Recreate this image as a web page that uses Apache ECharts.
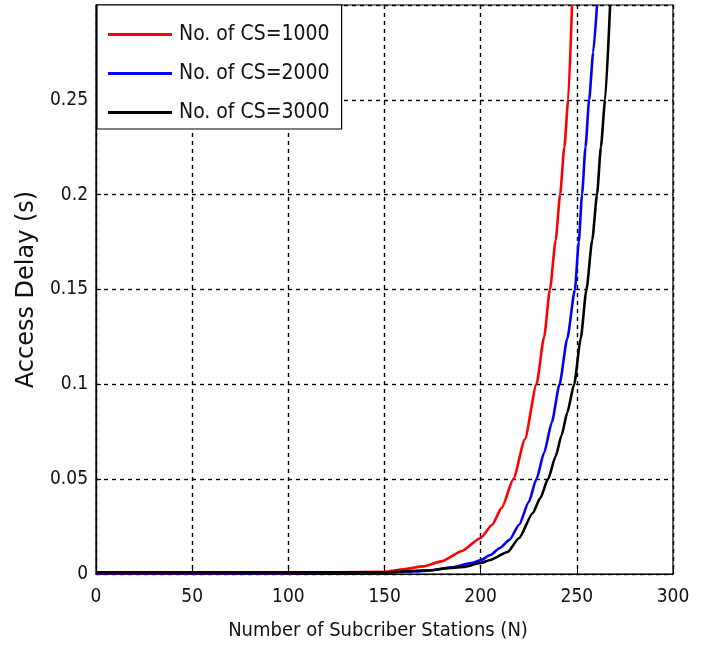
<!DOCTYPE html>
<html>
<head>
<meta charset="utf-8">
<script src="https://cdn.jsdelivr.net/npm/echarts@6/dist/echarts.min.js"></script>
<style>
html,body{margin:0;padding:0;background:#fff;}
#chart{width:707px;height:654px;}
</style>
</head>
<body>
<div id="chart"></div>
<script>
// Data
const seriesNames = ['No. of CS=1000', 'No. of CS=2000', 'No. of CS=3000'];
const xTicks = [0, 50, 100, 150, 200, 250, 300];
const yTicks = [0, 0.05, 0.1, 0.15, 0.2, 0.25, 0.3];

const cs1000N     = [0, 50, 100, 150, 160, 170, 180, 190, 200, 206, 211, 217, 223, 229, 233, 236, 239, 241.3, 243.5, 245.5, 247.5];
const cs1000Delay = [0.0004, 0.0004, 0.0006, 0.0012, 0.0025, 0.004, 0.0068, 0.012, 0.019, 0.026, 0.035, 0.05, 0.071, 0.1, 0.125, 0.15, 0.176, 0.2, 0.225, 0.25, 0.3];

const cs2000N     = [0, 50, 100, 150, 166, 175, 185, 195, 200, 205, 210, 215, 220, 225, 229, 233, 237, 241, 245, 249, 251, 252.7, 254.5, 256.4, 258.5, 260.5];
const cs2000Delay = [0.0004, 0.0004, 0.0005, 0.0008, 0.0013, 0.002, 0.0035, 0.0058, 0.0072, 0.01, 0.0137, 0.018, 0.026, 0.038, 0.05, 0.064, 0.08, 0.1, 0.124, 0.15, 0.175, 0.2, 0.225, 0.25, 0.275, 0.3];

const cs3000N     = [0, 50, 100, 150, 174, 182, 191, 200, 205, 214, 220, 227, 231, 235, 239, 242, 245, 248.6, 252, 255, 258, 260.5, 262.5, 264.7, 267.3];
const cs3000Delay = [0.0009, 0.0009, 0.0009, 0.0009, 0.002, 0.003, 0.0037, 0.0058, 0.0074, 0.0116, 0.019, 0.032, 0.04, 0.05, 0.062, 0.073, 0.085, 0.1, 0.124, 0.15, 0.176, 0.2, 0.225, 0.25, 0.3];

const colors = ['#ff0000', '#0000ff', '#000000'];
const FONT = "'DejaVu Sans Condensed', 'Liberation Sans Narrow', sans-serif";

function pairs(xs, ys) { return xs.map((x, i) => [x, ys[i]]); }

const chart = echarts.init(document.getElementById('chart'), null, {renderer: 'canvas'});
const mk = (name, xs, ys, c) => ({
  name: name, type: 'line', data: pairs(xs, ys),
  showSymbol: false, symbol: 'none', smooth: 0.2, smoothMonotone: 'x',
  lineStyle: {color: c, width: 2.6}, itemStyle: {color: c}, clip: true, z: 3
});

chart.setOption({
  animation: false,
  backgroundColor: '#fff',
  grid: {left: 96, right: 34, top: 5, bottom: 80, show: true, borderColor: '#000', borderWidth: 1.2, containLabel: false},
  legend: {
    orient: 'vertical', left: 97, top: 5,
    padding: [19, 12, 6, 11], itemGap: 18,
    itemWidth: 64, itemHeight: 3, icon: 'rect',
    backgroundColor: '#fff', borderColor: '#000', borderWidth: 1.2,
    textStyle: {fontFamily: FONT, fontSize: 21, color: '#111', padding: [0, 0, 0, 2]},
    data: seriesNames, z: 10
  },
  xAxis: {
    type: 'value', min: xTicks[0], max: xTicks[xTicks.length - 1], interval: 50,
    name: 'Number of Subcriber Stations (N)', nameLocation: 'middle', nameGap: 47,
    nameTextStyle: {fontFamily: FONT, fontSize: 20, color: '#111', padding: [0, 13, 0, 0]},
    axisLine: {show: true, lineStyle: {color: '#000', width: 1.2}},
    axisTick: {show: true, inside: true, length: 5, lineStyle: {color: '#000'}},
    axisLabel: {fontFamily: FONT, fontSize: 19, color: '#111', margin: 14},
    splitLine: {show: true, lineStyle: {color: '#000', type: [4, 4], width: 1.4}}
  },
  yAxis: {
    type: 'value', min: yTicks[0], max: yTicks[yTicks.length - 1], interval: 0.05,
    name: 'Access Delay (s)', nameLocation: 'middle', nameGap: 57, nameRotate: 90,
    nameTextStyle: {fontFamily: "'DejaVu Sans', sans-serif", fontSize: 24, color: '#111'},
    axisLine: {show: true, lineStyle: {color: '#000', width: 1.2}},
    axisTick: {show: true, inside: true, length: 5, lineStyle: {color: '#000'}},
    axisLabel: {fontFamily: FONT, fontSize: 19, color: '#111', margin: 8,
      formatter: v => (Math.abs(v - 0.3) < 1e-9 ? '' : String(+v.toFixed(2)))},
    splitLine: {show: true, lineStyle: {color: '#000', type: [4, 4], width: 1.4}}
  },
  series: [
    mk(seriesNames[0], cs1000N, cs1000Delay, colors[0]),
    mk(seriesNames[1], cs2000N, cs2000Delay, colors[1]),
    mk(seriesNames[2], cs3000N, cs3000Delay, colors[2])
  ]
});
</script>
</body>
</html>
